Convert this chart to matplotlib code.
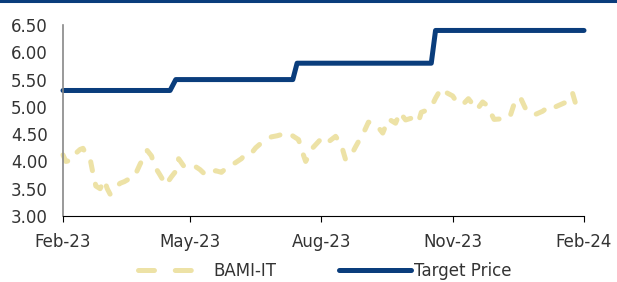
import matplotlib
matplotlib.use("Agg")
import matplotlib.pyplot as plt
import matplotlib.dates as mdates
from matplotlib.lines import Line2D
import pandas as pd

plt.rcParams['lines.scale_dashes'] = False
plt.rcParams['font.family'] = ['DejaVu Sans']

# ---- data ----
price_dates = [
    "2023-02-01", "2023-02-03", "2023-02-07", "2023-02-10", "2023-02-13", "2023-02-15",
    "2023-02-17", "2023-02-20", "2023-02-22", "2023-02-24", "2023-02-27", "2023-03-02",
    "2023-03-04", "2023-03-06", "2023-03-09", "2023-03-13", "2023-03-16", "2023-03-20",
    "2023-03-23", "2023-03-27", "2023-03-29", "2023-04-01", "2023-04-04", "2023-04-06",
    "2023-04-10", "2023-04-14", "2023-04-18", "2023-04-21", "2023-04-23", "2023-04-27",
    "2023-05-04", "2023-05-08", "2023-05-12", "2023-05-16", "2023-05-19", "2023-05-23",
    "2023-05-26", "2023-06-02", "2023-06-06", "2023-06-09", "2023-06-13", "2023-06-16",
    "2023-06-20", "2023-06-27", "2023-07-01", "2023-07-05", "2023-07-09", "2023-07-13",
    "2023-07-16", "2023-07-19", "2023-07-21", "2023-07-26", "2023-08-01", "2023-08-05",
    "2023-08-11", "2023-08-15", "2023-08-18", "2023-08-22", "2023-08-25", "2023-08-31",
    "2023-09-03", "2023-09-07", "2023-09-10", "2023-09-13", "2023-09-17", "2023-09-22",
    "2023-09-25", "2023-09-29", "2023-10-04", "2023-10-08", "2023-10-10", "2023-10-15",
    "2023-10-18", "2023-10-20", "2023-10-24", "2023-10-27", "2023-11-01", "2023-11-03",
    "2023-11-08", "2023-11-12", "2023-11-15", "2023-11-18", "2023-11-22", "2023-11-25",
    "2023-11-30", "2023-12-05", "2023-12-11", "2023-12-14", "2023-12-16", "2023-12-19",
    "2023-12-22", "2023-12-28", "2024-01-03", "2024-01-06", "2024-01-10", "2024-01-12",
    "2024-01-18", "2024-01-21", "2024-01-24", "2024-01-27",
]
price_values = [
    4.12, 4.00, 4.02, 4.15, 4.22, 4.24,
    4.14, 4.05, 3.78, 3.55, 3.50, 3.66,
    3.50, 3.40, 3.50, 3.60, 3.63, 3.69,
    3.72, 3.95, 4.05, 4.20, 4.10, 3.92,
    3.75, 3.57, 3.72, 3.82, 4.05, 3.90,
    3.92, 3.85, 3.75, 3.80, 3.83, 3.80,
    3.87, 3.98, 4.05, 4.14, 4.15, 4.25,
    4.34, 4.45, 4.47, 4.50, 4.52, 4.45,
    4.40, 4.15, 4.00, 4.25, 4.42, 4.34,
    4.46, 4.30, 4.03, 4.12, 4.27, 4.55,
    4.72, 4.70, 4.62, 4.52, 4.78, 4.70,
    4.90, 4.76, 4.80, 4.72, 4.90, 4.95,
    5.05, 5.16, 5.34, 5.27, 5.20, 5.12,
    5.04, 5.15, 5.05, 4.95, 5.09, 5.03,
    4.77, 4.78, 4.81, 5.05, 5.17, 5.14,
    4.97, 4.85, 4.92, 4.98, 4.95, 5.00,
    5.07, 5.10, 5.25, 4.98,
]

target_dates = ["2023-02-01", "2023-04-17", "2023-04-21", "2023-07-12", "2023-07-15",
                "2023-10-17", "2023-10-20", "2024-02-01"]
target_values = [5.30, 5.30, 5.50, 5.50, 5.80, 5.80, 6.40, 6.40]

x_ticks = ["2023-02-01", "2023-05-01", "2023-08-01", "2023-11-01", "2024-02-01"]
x_tick_labels = ["Feb-23", "May-23", "Aug-23", "Nov-23", "Feb-24"]
y_ticks = [3.0, 3.5, 4.0, 4.5, 5.0, 5.5, 6.0, 6.5]

series_names = ["BAMI-IT", "Target Price"]

# ---- style ----
navy = "#0A3D7C"
khaki = "#EDE2A6"
text_col = "#333333"

fig = plt.figure(figsize=(6.17, 2.82), dpi=100)
ax = fig.add_axes([63 / 617, 1 - 216 / 282, 521 / 617, 191 / 282])

pd_dates = pd.to_datetime(price_dates)
td = pd.to_datetime(target_dates)

ax.plot(pd_dates, price_values, color=khaki, lw=3.6, dashes=(6.5, 10),
        solid_capstyle='round', dash_capstyle='round', solid_joinstyle='round',
        dash_joinstyle='round', clip_on=False)
ax.plot(td, target_values, color=navy, lw=3.6, solid_capstyle='round',
        solid_joinstyle='round', clip_on=False)

ax.set_xlim(pd.Timestamp("2023-02-01"), pd.Timestamp("2024-02-01"))
ax.set_ylim(3.0, 6.5)
ax.set_yticks(y_ticks)
ax.set_yticklabels([f"{v:.2f}" for v in y_ticks])
ax.set_xticks(pd.to_datetime(x_ticks))
ax.set_xticklabels(x_tick_labels)

for s in ["top", "right"]:
    ax.spines[s].set_visible(False)
ax.spines["left"].set_color("#888888")
ax.spines["left"].set_linewidth(1.2)
ax.spines["bottom"].set_color("#000000")
ax.spines["bottom"].set_linewidth(0.8)

ax.tick_params(axis='y', length=0, pad=11, labelsize=12, labelcolor=text_col)
ax.tick_params(axis='x', length=4, width=0.8, direction='out', pad=8,
               labelsize=12, labelcolor=text_col, color="#000000")

# legend
h1 = Line2D([], [], color=khaki, lw=3.6, dashes=(11.5, 15, 11.5, 200),
            dash_capstyle='round')
h2 = Line2D([], [], color=navy, lw=3.6, solid_capstyle='round')
leg = fig.legend([h1, h2], series_names, loc='center', ncol=2,
                 bbox_to_anchor=(325 / 617, 1 - 271 / 282), frameon=False,
                 fontsize=12, handlelength=4.3, handletextpad=0.2,
                 columnspacing=3.8, labelcolor=text_col, borderpad=0.2)

# top rule
fig.add_artist(Line2D([0, 1], [1 - 1 / 282, 1 - 1 / 282], transform=fig.transFigure,
                      color=navy, lw=2.2))

fig.savefig("out.png", dpi=100)
